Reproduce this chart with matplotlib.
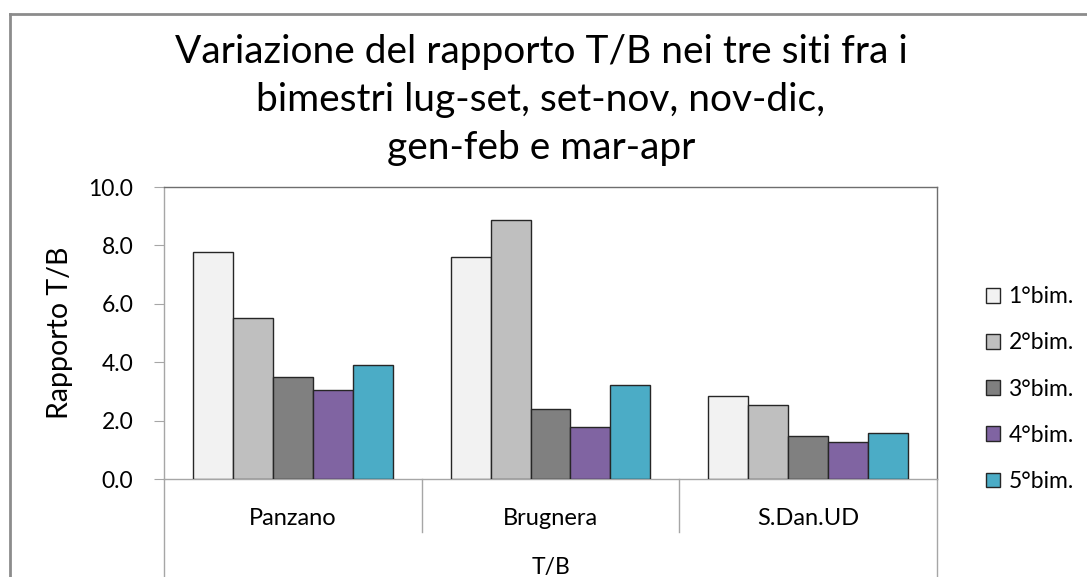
import numpy as np
import matplotlib.pyplot as plt
from matplotlib.lines import Line2D
from matplotlib.transforms import blended_transform_factory

plt.rcParams['font.family'] = ['Lato', 'DejaVu Sans']

siti = ['Panzano', 'Brugnera', 'S.Dan.UD']
bimestri = ['1°bim.', '2°bim.', '3°bim.', '4°bim.', '5°bim.']
# rapporto T/B per sito, un elenco per bimestre
bim1 = [7.78, 7.59, 2.84]
bim2 = [5.52, 8.87, 2.53]
bim3 = [3.50, 2.41, 1.47]
bim4 = [3.06, 1.79, 1.27]
bim5 = [3.89, 3.23, 1.57]
serie = [bim1, bim2, bim3, bim4, bim5]
colori = ['#F2F2F2', '#BFBFBF', '#808080', '#8064A2', '#4BACC6']
yticks = [0.0, 2.0, 4.0, 6.0, 8.0, 10.0]

W, H = 1087, 577
fig = plt.figure(figsize=(W / 100, H / 100), dpi=100)
ax = fig.add_axes([164 / W, 1 - 479 / H, (937 - 164) / W, (479 - 187) / H])

x = np.arange(len(siti))
w = 0.155
barre = []
for i, vals in enumerate(serie):
    b = ax.bar(x + (i - 2) * w, vals, w, color=colori[i], edgecolor='#262626',
               linewidth=1.0, label=bimestri[i], zorder=3)
    barre.append(b)

ax.set_xlim(-0.5, 2.5)
ax.set_ylim(0, 10)
ax.set_yticks(yticks)
ax.set_yticklabels(['%.1f' % v for v in yticks])
ax.tick_params(axis='y', direction='out', length=7, color='#A6A6A6',
               labelsize=16.5, pad=15)
ax.set_xticks(x)
ax.set_xticklabels(siti)
ax.tick_params(axis='x', length=0, labelsize=17, pad=21)

for s in ['left', 'bottom']:
    ax.spines[s].set_color('#A6A6A6')
    ax.spines[s].set_linewidth(1.0)
for s in ['top', 'right']:
    ax.spines[s].set_color('#6E6E6E')
    ax.spines[s].set_linewidth(1.0)

ax.set_ylabel('Rapporto T/B', fontsize=20.5, labelpad=11)

# linee dell'asse delle categorie sotto il grafico
tr = blended_transform_factory(ax.transData, ax.transAxes)
for xv in [0.5, 1.5]:
    ax.add_line(Line2D([xv, xv], [0, -0.18], transform=tr, color='#A6A6A6',
                       lw=1.0, clip_on=False))
for xv in [-0.5, 2.5]:
    ax.add_line(Line2D([xv, xv], [0, -0.34], transform=tr, color='#A6A6A6',
                       lw=1.0, clip_on=False))
ax.text(1.0, -0.303, 'T/B', transform=tr, ha='center', va='center', fontsize=16.5)

# cornice esterna
fig.add_artist(Line2D([10 / W, 10 / W], [0, 1 - 14 / H], color='#8C8C8C', lw=2.0))
fig.add_artist(Line2D([10 / W, 1], [1 - 14 / H, 1 - 14 / H], color='#8C8C8C', lw=2.0))

fig.text(541 / W, 1 - 100 / H,
         'Variazione del rapporto T/B nei tre siti fra i\n'
         'bimestri lug-set, set-nov, nov-dic,\n'
         'gen-feb e mar-apr',
         ha='center', va='center', fontsize=28, linespacing=1.41)

fig.legend(handles=barre, labels=bimestri, loc='upper left',
           bbox_to_anchor=(977 / W, 1 - 277 / H), frameon=False, fontsize=16.5,
           handlelength=0.62, handleheight=0.62, handletextpad=0.35,
           labelspacing=1.1, borderaxespad=0)

fig.savefig('out.png', dpi=100)
